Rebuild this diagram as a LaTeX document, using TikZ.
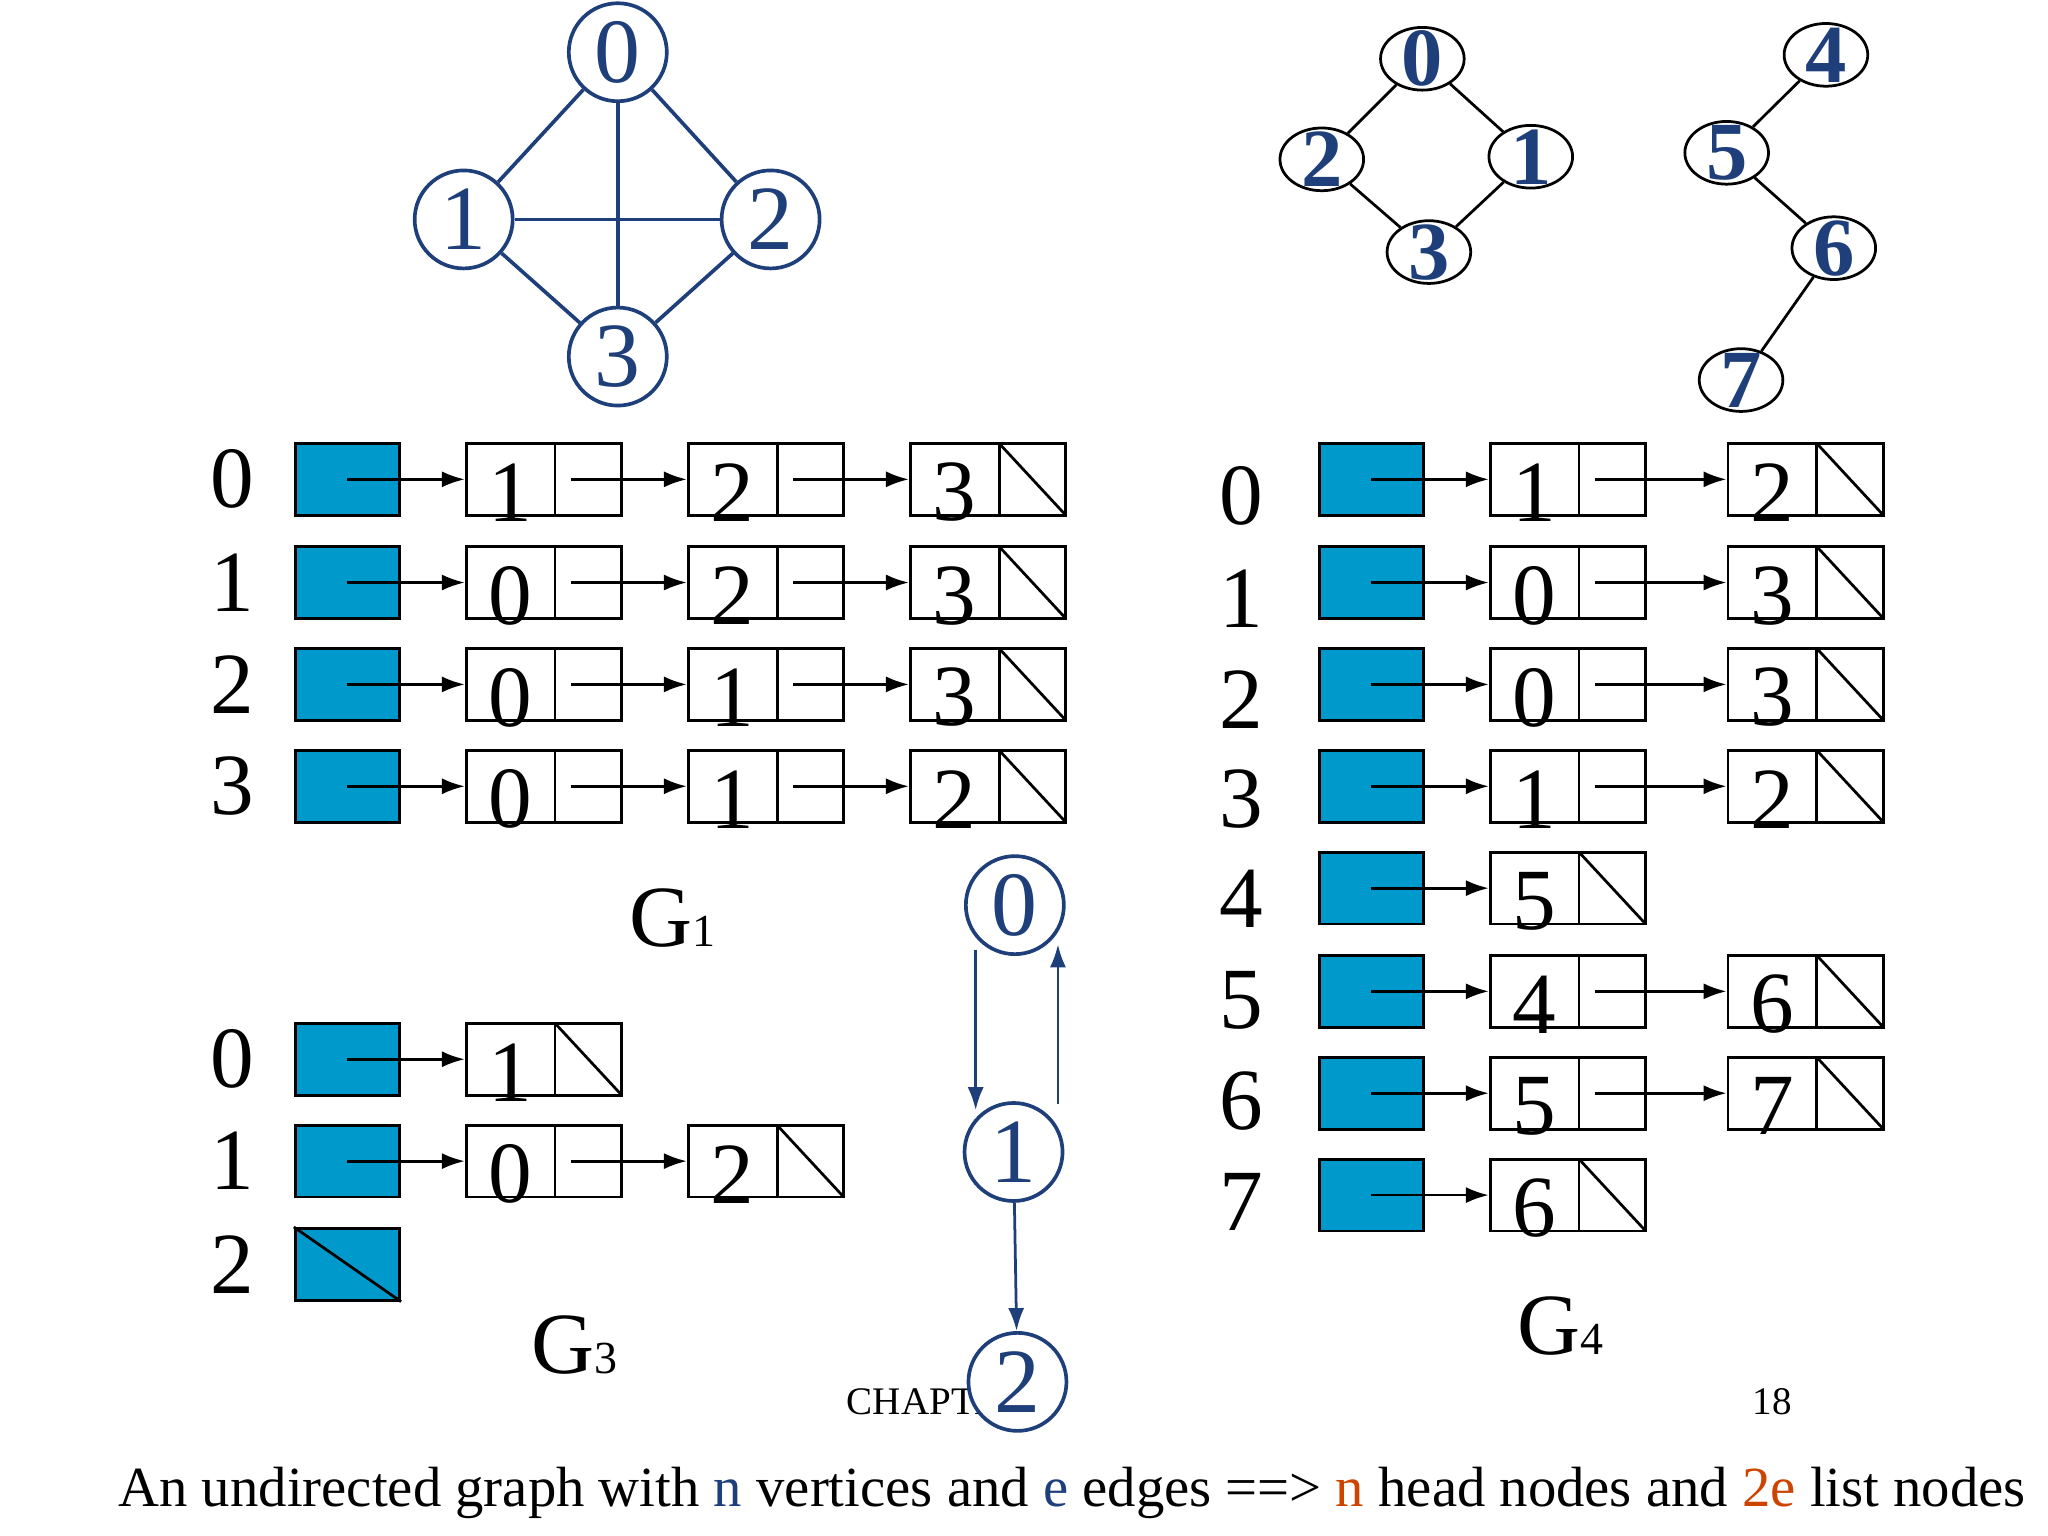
\documentclass[tikz,border=0pt]{standalone}
\usepackage{fontspec}
\setmainfont{Liberation Serif}
\usetikzlibrary{arrows.meta,shapes.geometric}
\definecolor{nb}{RGB}{31,63,122}
\definecolor{hb}{RGB}{0,153,204}
\definecolor{orr}{RGB}{204,68,0}
\tikzset{
 head/.style={draw=black,fill=hb,minimum width=0.8cm,minimum height=0.55cm,inner sep=0,line width=0.6pt},
 lbox/.style={draw=black,minimum width=1.19cm,minimum height=0.55cm,inner sep=0,line width=0.6pt},
 dig/.style={font=\fontsize{19}{19}\selectfont,inner sep=0},
 ptr/.style={-{Latex[length=5pt,width=3.5pt]},line width=0.6pt},
 gc/.style={circle,draw=nb,line width=0.8pt,minimum size=0.75cm,inner sep=0,text=nb,font=\fontsize{20}{20}\selectfont,fill=white},
 ge/.style={ellipse,draw=black,line width=0.6pt,minimum width=0.64cm,minimum height=0.48cm,inner xsep=0pt,inner ysep=-3pt,text=nb,font=\fontsize{18}{18}\selectfont\bfseries},
 lab/.style={font=\fontsize{19}{19}\selectfont}
}
\newcommand\hd[3]{\node[head] (#1) at (#2+40,-#3) {};}
\newcommand\lnd[5]{%
 \node[lbox] (#1) at (#2+59.5,-#3) {};
 \draw[line width=0.6pt] (#2+68,-#3+27.5) -- (#2+68,-#3-27.5);
 \node[dig] at (#2+34,-#3-10) {#4};
 \ifnum#5=1 \draw[line width=0.6pt] (#2+68,-#3+27.5) -- (#2+119,-#3-27.5);\fi
 \coordinate (#1-p) at (#2+80,-#3);}
\begin{document}
\begin{tikzpicture}[x=0.01cm,y=0.01cm]
\useasboundingbox (0,0) rectangle (1568,-1176);
% G1 graph
\node[gc] (a0) at (473,-40) {0};
\node[gc] (a1) at (355,-168) {1};
\node[gc] (a2) at (590,-168) {2};
\node[gc] (a3) at (473,-273) {3};
\foreach \u/\v in {a0/a1,a0/a2,a0/a3,a1/a2,a1/a3,a2/a3} \draw[nb,line width=0.8pt] (\u) -- (\v);
% G4 graph
\node[ge] (b0) at (1089,-45) {0};
\node[ge] (b2) at (1012,-122) {2};
\node[ge] (b1) at (1172,-120) {1};
\node[ge] (b3) at (1094,-193) {3};
\node[ge] (b4) at (1398,-42) {4};
\node[ge] (b5) at (1322,-117) {5};
\node[ge] (b6) at (1404,-190) {6};
\node[ge] (b7) at (1333,-291) {7};
\foreach \u/\v in {b0/b2,b0/b1,b2/b3,b1/b3,b4/b5,b5/b6,b6/b7} \draw[line width=0.6pt] (\u) -- (\v);
% G1 lists
\foreach \r/\y/\p/\q/\s in {0/367/1/2/3,1/446/0/2/3,2/524/0/1/3,3/602/0/1/2}{
 \node[lab] (r\r) at (178,-\y) {\r};
 \hd{h\r}{226}{\y}
 \lnd{p\r}{357}{\y}{\p}{0}
 \lnd{q\r}{527}{\y}{\q}{0}
 \lnd{s\r}{697}{\y}{\s}{1}
 \draw[ptr] (h\r.center) -- (p\r.west);
 \draw[ptr] (p\r-p) -- (q\r.west);
 \draw[ptr] (q\r-p) -- (s\r.west);
}
\node[lab] (g1) at (515,-703) {G\fontsize{10}{10}\selectfont 1};
% G3 lists
\node[lab] (c0) at (178,-811) {0};
\node[lab] (c1) at (178,-889) {1};
\node[lab] (c2) at (178,-968) {2};
\hd{k0}{226}{811}
\hd{k1}{226}{889}
\hd{k2}{226}{968}
\draw[line width=0.6pt] (k2.north west) -- (k2.south east);
\lnd{m0}{357}{811}{1}{1}
\lnd{m1}{357}{889}{0}{0}
\lnd{n1}{527}{889}{2}{1}
\draw[ptr] (k0.center) -- (m0.west);
\draw[ptr] (k1.center) -- (m1.west);
\draw[ptr] (m1-p) -- (n1.west);
\node[lab] (g3) at (440,-1030) {G\fontsize{10}{10}\selectfont 3};
% footer
\node[font=\fontsize{8.5}{8.5}\selectfont,anchor=west] (ch) at (636,-1073) {CHAPTER 6};
\node[font=\fontsize{8.5}{8.5}\selectfont] (pg) at (1357,-1073) {18};
% G3 graph
\node[gc] (d0) at (777,-693) {0};
\node[gc] (d1) at (776,-882) {1};
\node[gc] (d2) at (779,-1058) {2};
\coordinate (e1) at (747,-727); \coordinate (e2) at (747,-850);
\coordinate (e3) at (810,-845); \coordinate (e4) at (810,-723);
\draw[ptr,nb] (e1) -- (e2);
\draw[ptr,nb] (e3) -- (e4);
\draw[ptr,nb] (d1) -- (d2);
% G4 lists
\foreach \r/\y in {0/380,1/458,2/536,3/612,4/688,5/766,6/843,7/920} \node[lab] (t\r) at (950,-\y) {\r};
\foreach \r/\y/\p/\q in {0/367/1/2,1/446/0/3,2/524/0/3,3/602/1/2,5/759/4/6,6/837/5/7}{
 \hd{H\r}{1010}{\y}
 \lnd{P\r}{1141}{\y}{\p}{0}
 \lnd{Q\r}{1323}{\y}{\q}{1}
 \draw[ptr] (H\r.center) -- (P\r.west);
 \draw[ptr] (P\r-p) -- (Q\r.west);
}
\foreach \r/\y/\p in {4/680/5,7/915/6}{
 \hd{H\r}{1010}{\y}
 \lnd{P\r}{1141}{\y}{\p}{1}
 \draw[ptr] (H\r.center) -- (P\r.west);
}
\node[lab] (g4) at (1195,-1015) {G\fontsize{10}{10}\selectfont 4};
\node[font=\fontsize{12.35}{12.35}\selectfont,anchor=west,inner sep=0] (bt) at (90,-1143) {An undirected graph with \textcolor{nb}{n} vertices and \textcolor{nb}{e} edges ==> \textcolor{orr}{n} head nodes and \textcolor{orr}{2e} list nodes};
\end{tikzpicture}
\end{document}
